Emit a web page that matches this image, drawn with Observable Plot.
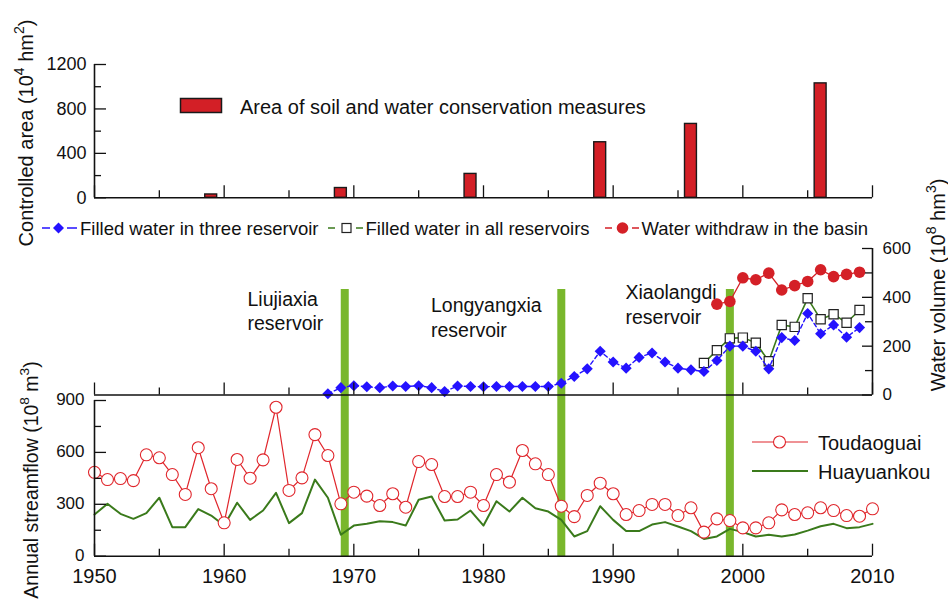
<!DOCTYPE html>
<html><head><meta charset="utf-8">
<script src="https://cdn.jsdelivr.net/npm/d3@7"></script>
<script src="https://cdn.jsdelivr.net/npm/@observablehq/plot@0.6"></script>
<style>
body{margin:0;background:#fff;font-family:Arial,"Liberation Sans",sans-serif;}
#wrap{position:relative;width:948px;height:602px;overflow:hidden;background:#fff;}
#wrap svg{position:absolute;left:0;top:0;}
.t{position:absolute;white-space:nowrap;color:#111;font-family:Arial,"Liberation Sans",sans-serif;}
.rot{position:absolute;white-space:nowrap;color:#111;font-size:20px;line-height:20px;transform:translate(-50%,-50%) rotate(-90deg);}
sup{font-size:0.7em;line-height:0;position:relative;top:-0.1em;}
.sym{position:absolute;left:0;top:0;overflow:visible;}
</style></head><body><div id="wrap"></div>
<script>
// ---------------- data ----------------
const areaYears  = [1959, 1969, 1979, 1989, 1996, 2006];
const areaValues = [30, 88, 215, 500, 665, 1030];

const threeYears  = [1968,1969,1970,1971,1972,1973,1974,1975,1976,1977,1978,1979,1980,1981,1982,1983,1984,1985,1986,1987,1988,1989,1990,1991,1992,1993,1994,1995,1996,1997,1998,1999,2000,2001,2002,2003,2004,2005,2006,2007,2008,2009];
const threeValues = [5,30,38,34,30,37,35,38,30,14,37,35,34,35,35,35,35,35,48,76,107,179,135,110,154,172,135,110,103,96,141,200,200,179,107,235,223,334,251,287,237,276];

const allYears  = [1997,1998,1999,2000,2001,2002,2003,2004,2005,2006,2007,2008,2009];
const allValues = [131,183,232,235,214,138,287,279,396,310,331,296,348];

const withdrawYears  = [1998,1999,2000,2001,2002,2003,2004,2005,2006,2007,2008,2009];
const withdrawValues = [372,383,480,472,499,430,448,465,513,485,494,503];

const flowYears = [1950,1951,1952,1953,1954,1955,1956,1957,1958,1959,
  1960,1961,1962,1963,1964,1965,1966,1967,1968,1969,
  1970,1971,1972,1973,1974,1975,1976,1977,1978,1979,
  1980,1981,1982,1983,1984,1985,1986,1987,1988,1989,
  1990,1991,1992,1993,1994,1995,1996,1997,1998,1999,
  2000,2001,2002,2003,2004,2005,2006,2007,2008,2009,2010];
const toudaoguai = [485,443,449,437,586,569,472,357,627,390,
  193,559,451,557,861,380,453,703,582,303,
  370,347,293,361,283,547,530,345,345,370,
  293,472,428,611,534,472,289,229,351,422,
  361,241,264,299,299,235,280,139,216,206,
  164,164,193,268,241,251,280,264,235,231,274];
const huayuankou = [241,303,245,216,249,338,168,168,272,235,
  177,309,210,264,366,191,249,443,338,124,
  177,187,202,197,177,326,345,206,212,264,
  177,318,258,338,277,258,210,114,145,289,
  210,145,145,183,197,172,145,100,114,158,
  139,114,124,114,125,148,173,187,162,168,187];

const reservoirNames = ["Liujiaxia", "Longyangxia", "Xiaolangdi"];
const reservoirYears = [1969.3, 1986, 1999];

const xMajor = [1950,1960,1970,1980,1990,2000,2010];
const xMinor = [1955,1965,1975,1985,1995,2005];

// -------------- build tables --------------
const areaData = areaYears.map((y,i)=>({year:y, value:areaValues[i]}));
const threeData = threeYears.map((y,i)=>({year:y, value:threeValues[i]}));
const allData = allYears.map((y,i)=>({year:y, value:allValues[i]}));
const withdrawData = withdrawYears.map((y,i)=>({year:y, value:withdrawValues[i]}));
const flowData = flowYears.map((y,i)=>({year:y, tou:toudaoguai[i], hua:huayuankou[i]}));

// -------------- layout --------------
const W = 948, H = 602, ML = 94, MR = 76, FW = W - ML - MR;
const FONT = 'Arial, "Liberation Sans", sans-serif';
const BLACK = "#111";
const fmt = d => String(d);

function panel(mt, mb, ydom, marks){
  return Plot.plot({
    width: W, height: H, marginLeft: ML, marginRight: MR, marginTop: mt, marginBottom: mb,
    x: {domain: [1950, 2010], axis: null},
    y: {domain: ydom, axis: null},
    style: {background: "transparent", overflow: "visible", fontFamily: FONT, color: BLACK},
    marks
  });
}
function xTicks(mt, mb){
  const fh = H - mt - mb;
  return [
    Plot.tickX(xMajor, {x: d=>d, insetTop: fh - 12, stroke: BLACK, strokeWidth: 1.3}),
    Plot.tickX(xMinor, {x: d=>d, insetTop: fh - 7, stroke: BLACK, strokeWidth: 1.3})
  ];
}
function yTicksLeft(major, minor){
  return [
    Plot.tickY(major, {y: d=>d, insetRight: FW - 12, stroke: BLACK, strokeWidth: 1.3}),
    Plot.tickY(minor, {y: d=>d, insetRight: FW - 7, stroke: BLACK, strokeWidth: 1.3})
  ];
}
function yTicksRight(major, minor){
  return [
    Plot.tickY(major, {y: d=>d, insetLeft: FW - 10, stroke: BLACK, strokeWidth: 1.3}),
    Plot.tickY(minor, {y: d=>d, insetLeft: FW - 7, stroke: BLACK, strokeWidth: 1.3})
  ];
}

const wrap = document.getElementById("wrap");

// reservoir bars (background layer spanning middle + bottom panels)
const resPlot = panel(289, 46, [0, 1], [
  Plot.ruleX(reservoirYears, {x: d=>d, stroke: "#79b72c", strokeWidth: 8})
]);

// bottom panel: annual streamflow
const TM = 400, BM = 46.3;
const bottomPlot = panel(TM, BM, [0, 900], [
  Plot.line(flowData, {x: "year", y: "hua", stroke: "#3a7a1b", strokeWidth: 2}),
  Plot.line(flowData, {x: "year", y: "tou", stroke: "#e0262c", strokeWidth: 1.2}),
  Plot.dot(flowData, {x: "year", y: "tou", r: 6, fill: "white", stroke: "#e0262c", strokeWidth: 1.1}),
  Plot.ruleY([0], {stroke: BLACK, strokeWidth: 1.6}),
  Plot.ruleX([1950], {stroke: BLACK, strokeWidth: 1.6}),
  ...xTicks(TM, BM),
  ...yTicksLeft([0,300,600,900], [150,450,750]),
  Plot.axisY({ticks: [0,300,600,900], tickFormat: fmt, tickSize: 0, tickPadding: 10, fontSize: 17, label: null, anchor: "left", dy: -1}),
  Plot.axisX({ticks: xMajor, tickFormat: fmt, tickSize: 0, tickPadding: 13, fontSize: 20, label: null, anchor: "bottom"})
]);

// middle panel: water volume
const MT = 248, MB = 207.5;
const labels = [
  {name: reservoirNames[0], x: 1961.8, y: 348},
  {name: reservoirNames[1], x: 1975.95, y: 323},
  {name: reservoirNames[2], x: 1990.95, y: 376}
];
const middlePlot = panel(MT, MB, [0, 600], [
  Plot.text(labels, {x: "x", y: "y", text: d => d.name + "\nreservoir", textAnchor: "start", lineAnchor: "middle", lineHeight: 1.28, fontSize: 19.5, fill: BLACK}),
  Plot.line(allData, {x: "year", y: "value", stroke: "#3a7a1b", strokeWidth: 1.6}),
  Plot.dot(allData, {x: "year", y: "value", symbol: "square", r: 5.2, fill: "white", stroke: "#222", strokeWidth: 1.2}),
  Plot.line(threeData, {x: "year", y: "value", stroke: "#2412ff", strokeWidth: 1.4, strokeDasharray: "4,3"}),
  Plot.dot(threeData, {x: "year", y: "value", symbol: "diamond2", r: 5, fill: "#2412ff"}),
  Plot.line(withdrawData, {x: "year", y: "value", stroke: "#d42027", strokeWidth: 1.3}),
  Plot.dot(withdrawData, {x: "year", y: "value", r: 5.8, fill: "#d42027"}),
  Plot.ruleY([0], {stroke: BLACK, strokeWidth: 1.6}),
  Plot.ruleX([2010], {stroke: BLACK, strokeWidth: 1.6}),
  ...xTicks(MT, MB),
  ...yTicksRight([0,200,400,600], [100,300,500]),
  Plot.axisY({ticks: [0,200,400,600], tickFormat: fmt, tickSize: 0, tickPadding: 10, fontSize: 17, label: null, anchor: "right"})
]);

// top panel: controlled area
const UT = 64, UB = 404.7;
const topPlot = panel(UT, UB, [0, 1200], [
  Plot.rectY(areaData, {x1: d => d.year - 0.46, x2: d => d.year + 0.46, y: "value", fill: "#d31f26", stroke: "#1a1a1a", strokeWidth: 1.4}),
  Plot.ruleY([0], {stroke: BLACK, strokeWidth: 1.6}),
  Plot.ruleX([1950], {stroke: BLACK, strokeWidth: 1.6}),
  ...xTicks(UT, UB),
  ...yTicksLeft([0,400,800,1200], [200,600,1000]),
  Plot.axisY({ticks: [0,400,800,1200], tickFormat: fmt, tickSize: 0, tickPadding: 8, fontSize: 18, label: null, anchor: "left"})
]);

wrap.append(resPlot, bottomPlot, middlePlot, topPlot);

// -------------- titles and legends (HTML text) --------------
function addText(html, left, top, size, cls){
  const d = document.createElement("div");
  d.className = cls || "t";
  d.innerHTML = html;
  d.style.left = left + "px";
  d.style.top = top + "px";
  if (size) { d.style.fontSize = size + "px"; d.style.lineHeight = "20px"; }
  wrap.appendChild(d);
  return d;
}
addText("Controlled area (10<sup>4</sup> hm<sup>2</sup>)", 25.5, 133, null, "rot");
const bt = addText("Annual streamflow (10<sup>8</sup> m<sup>3</sup>)", 31, 480, null, "rot");
bt.style.fontSize = "19.5px";
addText("Water volume (10<sup>8</sup> hm<sup>3</sup>)", 937.5, 285, null, "rot");

// legend symbols
const ns = "http://www.w3.org/2000/svg";
const sym = document.createElementNS(ns, "svg");
sym.setAttribute("class", "sym");
sym.setAttribute("width", W); sym.setAttribute("height", H);
sym.innerHTML = `
  <rect x="180.5" y="98.5" width="41" height="14" fill="#d31f26" stroke="#1a1a1a" stroke-width="1.5"/>
  <path d="M42,228H50M67,228H77" stroke="#2412ff" stroke-width="1.5"/>
  <path d="M58.5,222.5L64,228L58.5,233.5L53,228Z" fill="#2412ff"/>
  <path d="M328,228H335M356,228H363" stroke="#3a7a1b" stroke-width="1.5"/>
  <rect x="342" y="223.5" width="9" height="9" fill="white" stroke="#222" stroke-width="1.2"/>
  <path d="M605,228H612M632,228H639" stroke="#d42027" stroke-width="1.5"/>
  <circle cx="622.5" cy="228" r="5.8" fill="#d42027"/>
  <path d="M752,442H808" stroke="#e0262c" stroke-width="1.2"/>
  <circle cx="779.5" cy="442" r="6" fill="white" stroke="#e0262c" stroke-width="1.1"/>
  <path d="M752,471H808" stroke="#3a7a1b" stroke-width="2"/>
`;
wrap.appendChild(sym);

addText("Area of soil and water conservation measures", 240, 96.5, 20);
addText("Filled water in three reservoir", 80, 218.5, 18.5);
addText("Filled water in all reservoirs", 365.5, 218.5, 18.5);
addText("Water withdraw in the basin", 641.5, 218.5, 18.5);
addText("Toudaoguai", 818, 432.5, 20);
addText("Huayuankou", 818, 462, 20);
</script></body></html>
